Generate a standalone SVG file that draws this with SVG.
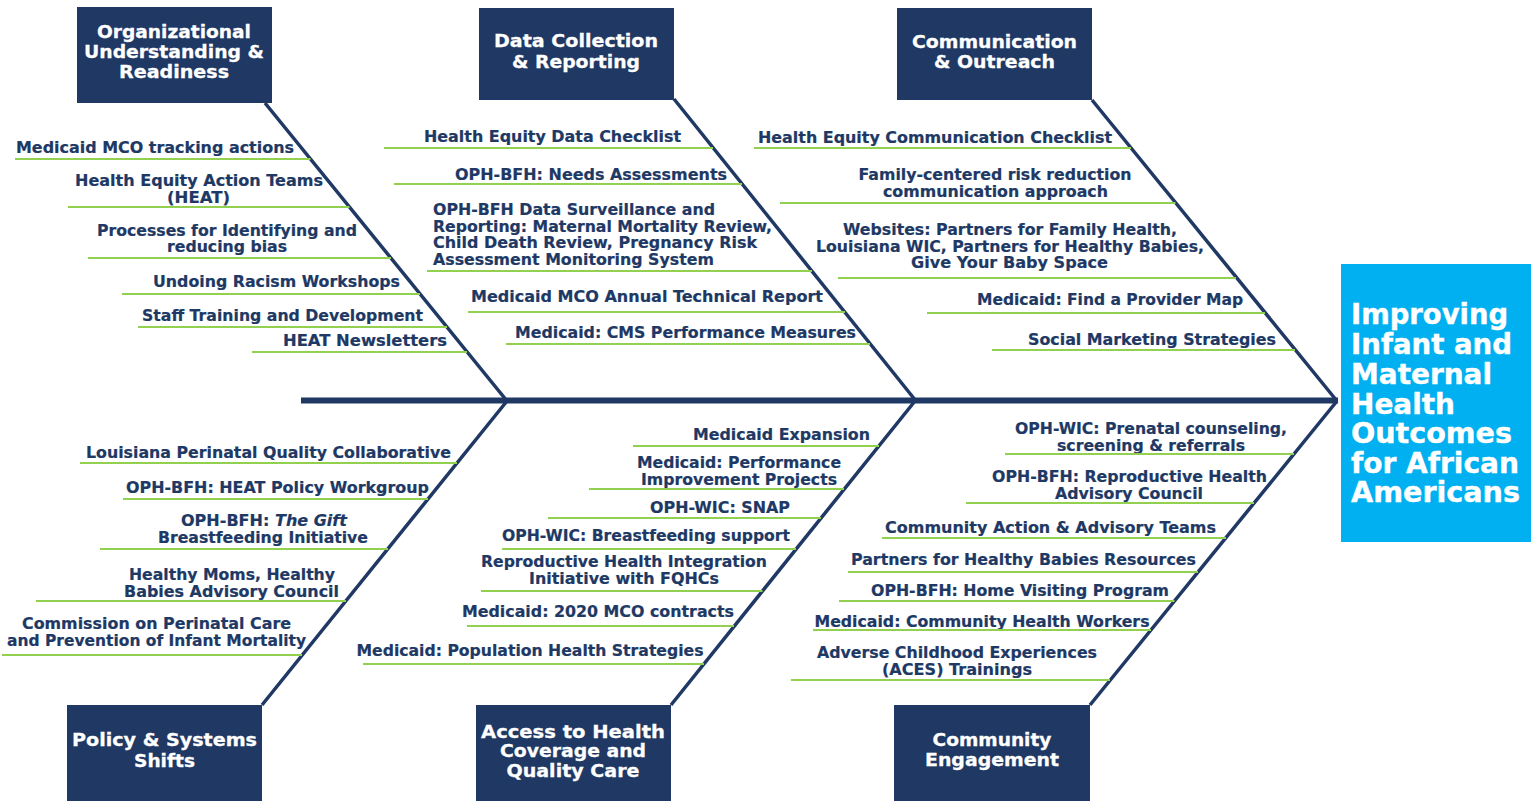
<svg xmlns="http://www.w3.org/2000/svg" width="1531" height="802" viewBox="0 0 1531 802">
  <style>
    .box { fill: #203864; }
    .title { font-family: "DejaVu Sans", Verdana, sans-serif; font-weight: bold; font-size: 18.5px; fill: #ffffff; stroke: #ffffff; stroke-width: 0.3; text-anchor: middle; }
    .goal { font-family: "DejaVu Sans", Verdana, sans-serif; font-weight: bold; font-size: 27.5px; fill: #ffffff; stroke: #ffffff; stroke-width: 0.4; }
    .item { font-family: "DejaVu Sans", Verdana, sans-serif; font-weight: bold; font-size: 15.3px; fill: #203864; stroke: #203864; stroke-width: 0.2; text-anchor: middle; }
    .left { text-anchor: start; }
    .rule { stroke: #92D050; stroke-width: 1.8; fill: none; }
    .bone { stroke: #203864; stroke-width: 3.5; fill: none; stroke-linecap: butt; }
    .spine { stroke: #203864; stroke-width: 6; fill: none; }
  </style>

  <!-- spine and category bones -->
  <g id="connectors">
    <line class="spine" x1="301" y1="400.5" x2="1338" y2="400.5"/>
    <line class="bone" x1="265" y1="103" x2="507" y2="401"/>
    <line class="bone" x1="674" y1="99" x2="916" y2="401"/>
    <line class="bone" x1="1092" y1="100" x2="1337" y2="401"/>
    <line class="bone" x1="507" y1="401" x2="262" y2="705"/>
    <line class="bone" x1="915" y1="401" x2="671" y2="705"/>
    <line class="bone" x1="1337" y1="401" x2="1090" y2="705"/>
  </g>

  <!-- outcome -->
  <g id="outcome">
    <rect x="1341" y="264" width="190" height="278" fill="#00B0F0"/>
    <text class="goal" x="1351" y="324" textLength="157" lengthAdjust="spacingAndGlyphs">Improving</text>
    <text class="goal" x="1351" y="354" textLength="161" lengthAdjust="spacingAndGlyphs">Infant and</text>
    <text class="goal" x="1351" y="384" textLength="141" lengthAdjust="spacingAndGlyphs">Maternal</text>
    <text class="goal" x="1351" y="414" textLength="104" lengthAdjust="spacingAndGlyphs">Health</text>
    <text class="goal" x="1351" y="443" textLength="161" lengthAdjust="spacingAndGlyphs">Outcomes</text>
    <text class="goal" x="1351" y="473" textLength="168" lengthAdjust="spacingAndGlyphs">for African</text>
    <text class="goal" x="1351" y="502" textLength="169" lengthAdjust="spacingAndGlyphs">Americans</text>
  </g>

  <!-- category headers -->
  <g id="cat-org">
    <rect class="box" x="77" y="7" width="195" height="96"/>
    <text class="title" x="174" y="38" textLength="154" lengthAdjust="spacingAndGlyphs">Organizational</text>
    <text class="title" x="174" y="58" textLength="180" lengthAdjust="spacingAndGlyphs">Understanding &amp;</text>
    <text class="title" x="174" y="78" textLength="110" lengthAdjust="spacingAndGlyphs">Readiness</text>
  </g>
  <g id="cat-data">
    <rect class="box" x="479" y="8" width="195" height="92"/>
    <text class="title" x="576" y="47" textLength="164" lengthAdjust="spacingAndGlyphs">Data Collection</text>
    <text class="title" x="576" y="68" textLength="128" lengthAdjust="spacingAndGlyphs">&amp; Reporting</text>
  </g>
  <g id="cat-comm">
    <rect class="box" x="897" y="8" width="195" height="92"/>
    <text class="title" x="994.5" y="48" textLength="165" lengthAdjust="spacingAndGlyphs">Communication</text>
    <text class="title" x="994.5" y="68" textLength="121" lengthAdjust="spacingAndGlyphs">&amp; Outreach</text>
  </g>
  <g id="cat-policy">
    <rect class="box" x="67" y="705" width="195" height="96"/>
    <text class="title" x="164.5" y="746" textLength="185" lengthAdjust="spacingAndGlyphs">Policy &amp; Systems</text>
    <text class="title" x="164.5" y="767" textLength="61" lengthAdjust="spacingAndGlyphs">Shifts</text>
  </g>
  <g id="cat-access">
    <rect class="box" x="476" y="705" width="195" height="96"/>
    <text class="title" x="573" y="738" textLength="184" lengthAdjust="spacingAndGlyphs">Access to Health</text>
    <text class="title" x="573" y="757" textLength="146" lengthAdjust="spacingAndGlyphs">Coverage and</text>
    <text class="title" x="573" y="777" textLength="133" lengthAdjust="spacingAndGlyphs">Quality Care</text>
  </g>
  <g id="cat-community">
    <rect class="box" x="894" y="705" width="196" height="96"/>
    <text class="title" x="992" y="746" textLength="119" lengthAdjust="spacingAndGlyphs">Community</text>
    <text class="title" x="992" y="766" textLength="134" lengthAdjust="spacingAndGlyphs">Engagement</text>
  </g>

  <!-- Organizational Understanding & Readiness items -->
  <g id="items-org">
    <text class="item" x="155" y="153" textLength="278" lengthAdjust="spacingAndGlyphs">Medicaid MCO tracking actions</text>
    <line class="rule" x1="15" y1="159" x2="310.5" y2="159"/>
    <text class="item" x="199" y="186" textLength="248" lengthAdjust="spacingAndGlyphs">Health Equity Action Teams</text>
    <text class="item" x="198.5" y="203" textLength="63" lengthAdjust="spacingAndGlyphs">(HEAT)</text>
    <line class="rule" x1="68" y1="207" x2="349.5" y2="207"/>
    <text class="item" x="227" y="236" textLength="260" lengthAdjust="spacingAndGlyphs">Processes for Identifying and</text>
    <text class="item" x="227" y="252" textLength="120" lengthAdjust="spacingAndGlyphs">reducing bias</text>
    <line class="rule" x1="88" y1="258" x2="391" y2="258"/>
    <text class="item" x="276.5" y="287" textLength="247" lengthAdjust="spacingAndGlyphs">Undoing Racism Workshops</text>
    <line class="rule" x1="122" y1="294" x2="420" y2="294"/>
    <text class="item" x="282.5" y="321" textLength="281" lengthAdjust="spacingAndGlyphs">Staff Training and Development</text>
    <line class="rule" x1="138" y1="327" x2="447" y2="327"/>
    <text class="item" x="365" y="346" textLength="164" lengthAdjust="spacingAndGlyphs">HEAT Newsletters</text>
    <line class="rule" x1="252" y1="352" x2="467" y2="352"/>
  </g>

  <!-- Data Collection & Reporting items -->
  <g id="items-data">
    <text class="item" x="552.5" y="142" textLength="257" lengthAdjust="spacingAndGlyphs">Health Equity Data Checklist</text>
    <line class="rule" x1="384" y1="148" x2="713" y2="148"/>
    <text class="item" x="591" y="180" textLength="272" lengthAdjust="spacingAndGlyphs">OPH-BFH: Needs Assessments</text>
    <line class="rule" x1="394" y1="184" x2="742" y2="184"/>
    <text class="item left" x="433" y="215" textLength="282" lengthAdjust="spacingAndGlyphs">OPH-BFH Data Surveillance and</text>
    <text class="item left" x="433" y="232" textLength="339" lengthAdjust="spacingAndGlyphs">Reporting: Maternal Mortality Review,</text>
    <text class="item left" x="433" y="248" textLength="324" lengthAdjust="spacingAndGlyphs">Child Death Review, Pregnancy Risk</text>
    <text class="item left" x="433" y="265" textLength="281" lengthAdjust="spacingAndGlyphs">Assessment Monitoring System</text>
    <line class="rule" x1="427" y1="271" x2="812" y2="271"/>
    <text class="item" x="647" y="302" textLength="352" lengthAdjust="spacingAndGlyphs">Medicaid MCO Annual Technical Report</text>
    <line class="rule" x1="468" y1="312" x2="845" y2="312"/>
    <text class="item" x="685.5" y="338" textLength="341" lengthAdjust="spacingAndGlyphs">Medicaid: CMS Performance Measures</text>
    <line class="rule" x1="506" y1="344" x2="870" y2="344"/>
  </g>

  <!-- Communication & Outreach items -->
  <g id="items-comm">
    <text class="item" x="935" y="143" textLength="354" lengthAdjust="spacingAndGlyphs">Health Equity Communication Checklist</text>
    <line class="rule" x1="754" y1="148" x2="1131" y2="148"/>
    <text class="item" x="995" y="180" textLength="273" lengthAdjust="spacingAndGlyphs">Family-centered risk reduction</text>
    <text class="item" x="995.5" y="197" textLength="225" lengthAdjust="spacingAndGlyphs">communication approach</text>
    <line class="rule" x1="780" y1="203" x2="1175.5" y2="203"/>
    <text class="item" x="1010" y="235" textLength="334" lengthAdjust="spacingAndGlyphs">Websites: Partners for Family Health,</text>
    <text class="item" x="1010" y="252" textLength="388" lengthAdjust="spacingAndGlyphs">Louisiana WIC, Partners for Healthy Babies,</text>
    <text class="item" x="1009.5" y="268" textLength="197" lengthAdjust="spacingAndGlyphs">Give Your Baby Space</text>
    <line class="rule" x1="838" y1="278" x2="1236" y2="278"/>
    <text class="item" x="1110" y="305" textLength="266" lengthAdjust="spacingAndGlyphs">Medicaid: Find a Provider Map</text>
    <line class="rule" x1="927" y1="313" x2="1265" y2="313"/>
    <text class="item" x="1152" y="345" textLength="248" lengthAdjust="spacingAndGlyphs">Social Marketing Strategies</text>
    <line class="rule" x1="992" y1="350" x2="1295" y2="350"/>
  </g>

  <!-- Policy & Systems Shifts items -->
  <g id="items-policy">
    <text class="item" x="268.5" y="458" textLength="365" lengthAdjust="spacingAndGlyphs">Louisiana Perinatal Quality Collaborative</text>
    <line class="rule" x1="80" y1="463" x2="457" y2="463"/>
    <text class="item" x="277.5" y="493" textLength="303" lengthAdjust="spacingAndGlyphs">OPH-BFH: HEAT Policy Workgroup</text>
    <line class="rule" x1="123" y1="499" x2="428" y2="499"/>
    <text class="item" x="264" y="526" textLength="166" lengthAdjust="spacingAndGlyphs">OPH-BFH: <tspan font-style="italic">The Gift</tspan></text>
    <text class="item" x="263" y="543" textLength="210" lengthAdjust="spacingAndGlyphs">Breastfeeding Initiative</text>
    <line class="rule" x1="100" y1="549" x2="388" y2="549"/>
    <text class="item" x="232" y="580" textLength="206" lengthAdjust="spacingAndGlyphs">Healthy Moms, Healthy</text>
    <text class="item" x="231.5" y="597" textLength="215" lengthAdjust="spacingAndGlyphs">Babies Advisory Council</text>
    <line class="rule" x1="36" y1="601" x2="346" y2="601"/>
    <text class="item" x="156.5" y="629" textLength="269" lengthAdjust="spacingAndGlyphs">Commission on Perinatal Care</text>
    <text class="item" x="156.5" y="646" textLength="299" lengthAdjust="spacingAndGlyphs">and Prevention of Infant Mortality</text>
    <line class="rule" x1="2" y1="655" x2="302" y2="655"/>
  </g>

  <!-- Access to Health Coverage and Quality Care items -->
  <g id="items-access">
    <text class="item" x="781.5" y="440" textLength="177" lengthAdjust="spacingAndGlyphs">Medicaid Expansion</text>
    <line class="rule" x1="633" y1="446" x2="879" y2="446"/>
    <text class="item" x="739" y="468" textLength="204" lengthAdjust="spacingAndGlyphs">Medicaid: Performance</text>
    <text class="item" x="739" y="485" textLength="196" lengthAdjust="spacingAndGlyphs">Improvement Projects</text>
    <line class="rule" x1="589" y1="489" x2="844" y2="489"/>
    <text class="item" x="720" y="513" textLength="140" lengthAdjust="spacingAndGlyphs">OPH-WIC: SNAP</text>
    <line class="rule" x1="548" y1="518" x2="821" y2="518"/>
    <text class="item" x="646" y="541" textLength="288" lengthAdjust="spacingAndGlyphs">OPH-WIC: Breastfeeding support</text>
    <line class="rule" x1="502" y1="549" x2="796" y2="549"/>
    <text class="item" x="624" y="567" textLength="286" lengthAdjust="spacingAndGlyphs">Reproductive Health Integration</text>
    <text class="item" x="624" y="584" textLength="190" lengthAdjust="spacingAndGlyphs">Initiative with FQHCs</text>
    <line class="rule" x1="481" y1="591" x2="762.5" y2="591"/>
    <text class="item" x="598" y="617" textLength="272" lengthAdjust="spacingAndGlyphs">Medicaid: 2020 MCO contracts</text>
    <line class="rule" x1="467" y1="626" x2="734" y2="626"/>
    <text class="item" x="530" y="656" textLength="347" lengthAdjust="spacingAndGlyphs">Medicaid: Population Health Strategies</text>
    <line class="rule" x1="363" y1="664" x2="704" y2="664"/>
  </g>

  <!-- Community Engagement items -->
  <g id="items-community">
    <text class="item" x="1151" y="434" textLength="272" lengthAdjust="spacingAndGlyphs">OPH-WIC: Prenatal counseling,</text>
    <text class="item" x="1151" y="451" textLength="188" lengthAdjust="spacingAndGlyphs">screening &amp; referrals</text>
    <line class="rule" x1="1005" y1="454" x2="1294" y2="454"/>
    <text class="item" x="1129.5" y="482" textLength="275" lengthAdjust="spacingAndGlyphs">OPH-BFH: Reproductive Health</text>
    <text class="item" x="1129" y="499" textLength="148" lengthAdjust="spacingAndGlyphs">Advisory Council</text>
    <line class="rule" x1="966" y1="503" x2="1254" y2="503"/>
    <text class="item" x="1050.5" y="533" textLength="331" lengthAdjust="spacingAndGlyphs">Community Action &amp; Advisory Teams</text>
    <line class="rule" x1="882" y1="538" x2="1226" y2="538"/>
    <text class="item" x="1023.5" y="565" textLength="345" lengthAdjust="spacingAndGlyphs">Partners for Healthy Babies Resources</text>
    <line class="rule" x1="848" y1="572" x2="1198" y2="572"/>
    <text class="item" x="1020" y="596" textLength="298" lengthAdjust="spacingAndGlyphs">OPH-BFH: Home Visiting Program</text>
    <line class="rule" x1="839" y1="601" x2="1174.5" y2="601"/>
    <text class="item" x="982" y="627" textLength="335" lengthAdjust="spacingAndGlyphs">Medicaid: Community Health Workers</text>
    <line class="rule" x1="813" y1="630" x2="1151" y2="630"/>
    <text class="item" x="957" y="658" textLength="280" lengthAdjust="spacingAndGlyphs">Adverse Childhood Experiences</text>
    <text class="item" x="957" y="675" textLength="150" lengthAdjust="spacingAndGlyphs">(ACES) Trainings</text>
    <line class="rule" x1="791" y1="680" x2="1110" y2="680"/>
  </g>
</svg>
